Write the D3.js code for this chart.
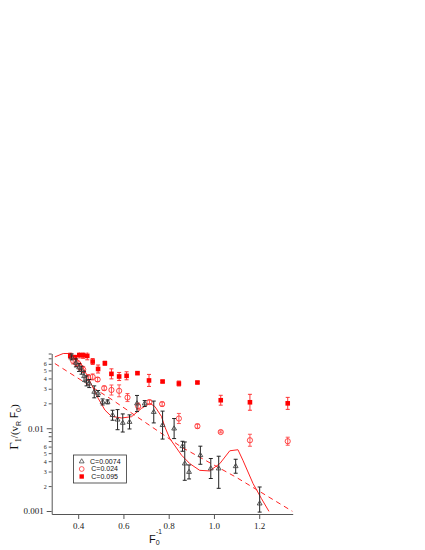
<!DOCTYPE html>
<html><head><meta charset="utf-8">
<script src="https://cdn.jsdelivr.net/npm/d3@7"></script>
<style>body{margin:0;background:#fff}svg{display:block}</style>
</head><body>
<svg id="c" width="425" height="550"></svg>
<script>
// ---- data ----
const xTicks = [0.4, 0.6, 0.8, 1.0, 1.2];
const xTickLabels = ["0.4", "0.6", "0.8", "1.0", "1.2"];
const yMajorTicks = [0.001, 0.01];
const yMajorLabels = ["0.001", "0.01"];
const yMinorLabeled = [0.002, 0.003, 0.004, 0.005, 0.006, 0.02, 0.03, 0.04, 0.05, 0.06];
const yMinorLabels = ["2", "3", "4", "5", "6", "2", "3", "4", "5", "6"];
const yMinorPlain = [0.007, 0.008, 0.009, 0.07, 0.08];

const legendLabels = ["C=0.0074", "C=0.024", "C=0.095"];

// C=0.0074 (open triangles)
const triF  = [0.371,0.390,0.404,0.415,0.426,0.437,0.449,0.471,0.488,0.508,0.530,0.552,0.574,0.597,0.627,0.660,0.694,0.734,0.773,0.824,0.861,0.871,0.890,0.940,0.986,1.021,1.096,1.202];
const triV  = [0.0728,0.0616,0.0542,0.0503,0.0425,0.0373,0.0347,0.0275,0.0263,0.0208,0.0208,0.0144,0.0127,0.0116,0.0119,0.0199,0.0199,0.0157,0.0109,0.0099,0.00606,0.00374,0.00296,0.00472,0.00326,0.00326,0.00347,0.00123];
const triHi = [0.0791,0.0689,0.0606,0.0562,0.0488,0.0429,0.0388,0.0325,0.0286,0.0226,0.0220,0.0165,0.0168,0.0149,0.0145,0.0249,0.0216,0.0213,0.0161,0.0131,0.00696,0.00682,0.00360,0.00607,0.00431,0.00459,0.00422,0.00195];
const triLo = [0.0670,0.0551,0.0485,0.0450,0.0370,0.0325,0.0310,0.0233,0.0242,0.0191,0.0197,0.0125,0.0096,0.0090,0.0098,0.0159,0.0183,0.0116,0.0074,0.0075,0.00527,0.00235,0.00244,0.00367,0.00247,0.00188,0.00286,0.00097];

// C=0.024 (open circles)
const cirF  = [0.378,0.393,0.408,0.422,0.444,0.464,0.486,0.515,0.547,0.581,0.618,0.665,0.715,0.771,0.845,0.927,1.030,1.159,1.326];
const cirV  = [0.0651,0.0606,0.0551,0.0513,0.041,0.0417,0.0388,0.0305,0.029,0.0283,0.0235,0.0185,0.0207,0.0196,0.0131,0.0106,0.0090,0.00716,0.00697];
const cirHi = [0.0708,0.0659,0.0599,0.0558,0.0446,0.0453,0.0410,0.0323,0.0333,0.0334,0.0263,0.0201,0.0219,0.0207,0.0151,0.0112,0.0093,0.00846,0.00779];
const cirLo = [0.0599,0.0557,0.0507,0.0472,0.0377,0.0384,0.0367,0.0288,0.0252,0.0240,0.0210,0.0170,0.0196,0.0185,0.0114,0.0100,0.0088,0.00606,0.00623];

// C=0.095 (filled squares)
const sqF  = [0.365,0.385,0.405,0.422,0.440,0.464,0.488,0.518,0.547,0.581,0.614,0.662,0.713,0.773,0.845,0.927,1.030,1.159,1.326];
const sqV  = [0.075,0.072,0.077,0.076,0.075,0.064,0.052,0.061,0.0454,0.0422,0.043,0.0463,0.0378,0.0367,0.0347,0.0357,0.0218,0.0206,0.020];
const sqHi = [0.0815,0.0761,0.0837,0.0826,0.0838,0.0696,0.0581,0.0645,0.0522,0.0472,0.0481,0.0476,0.0447,0.0377,0.0372,0.0367,0.0250,0.0257,0.0236];
const sqLo = [0.0690,0.0681,0.0708,0.0699,0.0671,0.0589,0.0465,0.0577,0.0395,0.0377,0.0385,0.0450,0.0320,0.0357,0.0324,0.0347,0.0190,0.0165,0.0169];

// model curve (solid)
const modelF = [0.297,0.334,0.360,0.408,0.444,0.488,0.518,0.547,0.592,0.636,0.680,0.717,0.739,0.768,0.783,0.805,0.857,0.893,0.937,0.981,1.026,1.070,1.106,1.128,1.173,1.210,1.243];
const modelV = [0.0728,0.080,0.080,0.064,0.041,0.0231,0.0166,0.0139,0.0133,0.0138,0.0174,0.0200,0.0183,0.0139,0.0104,0.0075,0.00472,0.00374,0.0031,0.00305,0.00374,0.00534,0.0055,0.0041,0.00214,0.00141,0.00099];

// dashed curve
const dashF = [0.297,0.55,0.857,1.10,1.347];
const dashV = [0.0605,0.0221,0.0059,0.00254,0.00099];

// ---- drawing ----
const svg = d3.select("#c");
const x = d3.scaleLinear().domain([0.283, 1.348]).range([51.7, 292.7]);
const y = d3.scaleLog().domain([0.00092, 0.08]).range([514, 353.5]);
const axisCol = "#555";
const serif = "'Liberation Serif','DejaVu Serif',serif";
const sans = "'Liberation Sans',Arial,sans-serif";

// axes
const xAxis = svg.append("g").attr("transform", `translate(0,${y.range()[0]})`)
  .call(d3.axisBottom(x).tickValues(xTicks).tickFormat((d,i)=>xTickLabels[i]).tickSize(5).tickSizeOuter(0).tickPadding(4));
xAxis.selectAll("text").attr("font-family", serif).attr("font-size", 9).attr("fill", "#222");

const yMaj = svg.append("g").attr("transform", `translate(${x.range()[0]},0)`)
  .call(d3.axisLeft(y).tickValues(yMajorTicks).tickFormat((d,i)=>yMajorLabels[i]).tickSize(5).tickSizeOuter(0).tickPadding(3));
yMaj.selectAll("text").attr("font-family", serif).attr("font-size", 9).attr("fill", "#222");

const yMin = svg.append("g").attr("transform", `translate(${x.range()[0]},0)`)
  .call(d3.axisLeft(y).tickValues(yMinorLabeled).tickFormat((d,i)=>yMinorLabels[i]).tickSize(3).tickSizeOuter(0).tickPadding(2));
yMin.select(".domain").remove();
yMin.selectAll("text").attr("font-family", serif).attr("font-size", 6).attr("fill", "#222");

const yMin2 = svg.append("g").attr("transform", `translate(${x.range()[0]},0)`)
  .call(d3.axisLeft(y).tickValues(yMinorPlain).tickFormat("").tickSize(3).tickSizeOuter(0));
yMin2.select(".domain").remove();

svg.selectAll(".domain, .tick line").attr("stroke", axisCol).attr("stroke-width", 1);

// clip
svg.append("clipPath").attr("id","clip").append("rect")
  .attr("x", x.range()[0]).attr("y", y.range()[1]-1)
  .attr("width", x.range()[1]-x.range()[0]).attr("height", y.range()[0]-y.range()[1]+1);
const plot = svg.append("g").attr("clip-path","url(#clip)");

const line = d3.line().x(d=>x(d[0])).y(d=>y(d[1]));
plot.append("path").datum(dashF.map((f,i)=>[f,dashV[i]]))
  .attr("d", line).attr("fill","none").attr("stroke","#f22").attr("stroke-width",1).attr("stroke-dasharray","5,4");
plot.append("path").datum(modelF.map((f,i)=>[f,modelV[i]]))
  .attr("d", line).attr("fill","none").attr("stroke","#f22").attr("stroke-width",1);

function errBars(g, F, V, Hi, Lo, col, w) {
  const d = F.map((f,i)=>({f, v:V[i], hi:Hi[i], lo:Lo[i]}));
  const gg = g.append("g").attr("stroke", col).attr("stroke-width", w).attr("fill","none");
  gg.selectAll(".v").data(d).join("line")
    .attr("x1", p=>x(p.f)).attr("x2", p=>x(p.f)).attr("y1", p=>y(p.hi)).attr("y2", p=>y(p.lo));
  gg.selectAll(".t").data(d).join("line")
    .attr("x1", p=>x(p.f)-2).attr("x2", p=>x(p.f)+2).attr("y1", p=>y(p.hi)).attr("y2", p=>y(p.hi));
  gg.selectAll(".b").data(d).join("line")
    .attr("x1", p=>x(p.f)-2).attr("x2", p=>x(p.f)+2).attr("y1", p=>y(p.lo)).attr("y2", p=>y(p.lo));
  return d;
}

// squares
const sqD = errBars(plot, sqF, sqV, sqHi, sqLo, "#f33", 1);
plot.append("g").selectAll("rect").data(sqD).join("rect")
  .attr("x", p=>x(p.f)-2.3).attr("y", p=>y(p.v)-2.3).attr("width",4.6).attr("height",4.6).attr("fill","#f00");

// circles
const cirD = errBars(plot, cirF, cirV, cirHi, cirLo, "#f55", 1);
plot.append("g").selectAll("circle").data(cirD).join("circle")
  .attr("cx", p=>x(p.f)).attr("cy", p=>y(p.v)).attr("r",2.6).attr("fill","none").attr("stroke","#f33").attr("stroke-width",0.9);

// triangles
const triD = errBars(plot, triF, triV, triHi, triLo, "#222", 1);
const tri = d3.symbol().type(d3.symbolTriangle).size(10);
plot.append("g").selectAll("path").data(triD).join("path")
  .attr("d", tri).attr("transform", p=>`translate(${x(p.f)},${y(p.v)})`)
  .attr("fill","none").attr("stroke","#444").attr("stroke-width",0.9);

// legend
const lg = svg.append("g");
lg.append("rect").attr("x",73.5).attr("y",455).attr("width",53).attr("height",28)
  .attr("fill","#fff").attr("stroke","#333").attr("stroke-width",0.8);
const ly = [461.5, 469, 476.5];
lg.append("path").attr("d", tri).attr("transform",`translate(81.7,${ly[0]})`).attr("fill","none").attr("stroke","#444").attr("stroke-width",0.8);
lg.append("circle").attr("cx",81.7).attr("cy",ly[1]).attr("r",2.4).attr("fill","none").attr("stroke","#f33").attr("stroke-width",0.8);
lg.append("rect").attr("x",79.5).attr("y",ly[2]-2.2).attr("width",4.4).attr("height",4.4).attr("fill","#f00");
lg.selectAll("text").data(legendLabels).join("text")
  .attr("x", (d,i)=> i===0 ? 90 : 91.3).attr("y",(d,i)=>ly[i]+2.4)
  .attr("font-family", sans).attr("font-size",7).attr("fill","#111").text(d=>d);

// axis titles
const yt = svg.append("text").attr("transform","translate(18,427) rotate(-90)")
  .attr("text-anchor","middle").attr("fill","#111");
yt.append("tspan").attr("font-family",serif).attr("font-size",13).text("Γ");
yt.append("tspan").attr("font-family",serif).attr("font-size",8).attr("dy",3).text("1");
yt.append("tspan").attr("font-family",serif).attr("font-size",11).attr("dy",-3).text("/(v");
yt.append("tspan").attr("font-family",sans).attr("font-size",7).attr("dy",2.5).text("R");
yt.append("tspan").attr("font-family",sans).attr("font-size",10).attr("dy",-2.5).text(" F");
yt.append("tspan").attr("font-family",sans).attr("font-size",7).attr("dy",2.5).text("0");
yt.append("tspan").attr("font-family",serif).attr("font-size",11).attr("dy",-2.5).text(")");

const xt = svg.append("text").attr("x",149).attr("y",543).attr("fill","#111").attr("font-family",sans);
xt.append("tspan").attr("font-size",11).text("F");
xt.append("tspan").attr("font-size",7).attr("dy",1.5).text("0");
xt.append("tspan").attr("font-size",6.5).attr("dy",-10.5).attr("dx",-3.6).text("-1");
</script>
</body></html>
